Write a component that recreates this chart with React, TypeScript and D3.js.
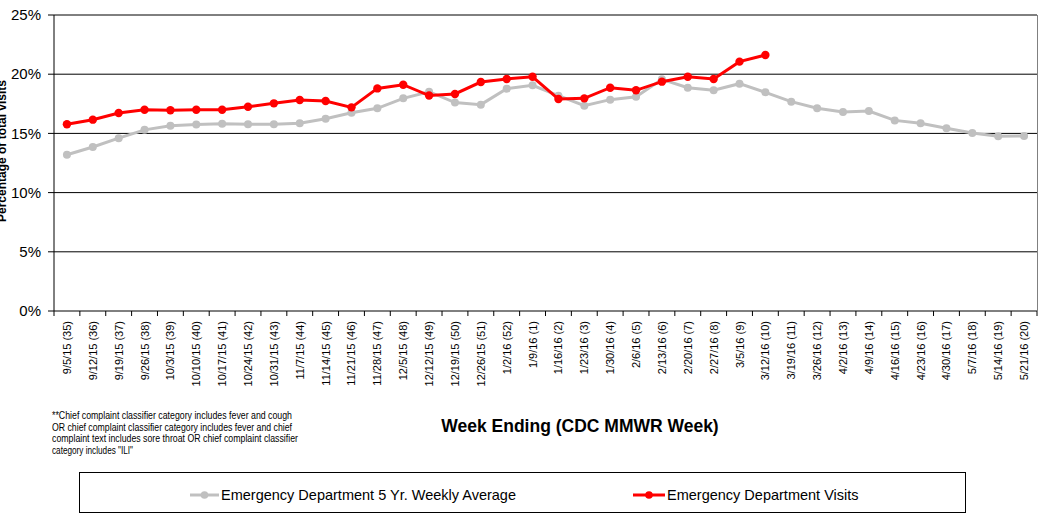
import React from "react";
import * as d3 from "d3";

const weeks: string[] = [
  "9/5/15 (35)", "9/12/15 (36)", "9/19/15 (37)", "9/26/15 (38)", "10/3/15 (39)",
  "10/10/15 (40)", "10/17/15 (41)", "10/24/15 (42)", "10/31/15 (43)", "11/7/15 (44)",
  "11/14/15 (45)", "11/21/15 (46)", "11/28/15 (47)", "12/5/15 (48)", "12/12/15 (49)",
  "12/19/15 (50)", "12/26/15 (51)", "1/2/16 (52)", "1/9/16 (1)", "1/16/16 (2)",
  "1/23/16 (3)", "1/30/16 (4)", "2/6/16 (5)", "2/13/16 (6)", "2/20/16 (7)",
  "2/27/16 (8)", "3/5/16 (9)", "3/12/16 (10)", "3/19/16 (11)", "3/26/16 (12)",
  "4/2/16 (13)", "4/9/16 (14)", "4/16/16 (15)", "4/23/16 (16)", "4/30/16 (17)",
  "5/7/16 (18)", "5/14/16 (19)", "5/21/16 (20)",
];

const avg5yr: number[] = [
  13.2, 13.85, 14.6, 15.3, 15.65, 15.75, 15.82, 15.77, 15.77, 15.85,
  16.24, 16.75, 17.12, 17.96, 18.52, 17.6, 17.43, 18.78, 19.06, 18.19,
  17.34, 17.85, 18.1, 19.57, 18.86, 18.64, 19.2, 18.47, 17.68, 17.12,
  16.81, 16.89, 16.1, 15.85, 15.43, 15.03, 14.75, 14.78,
];

const edVisits: number[] = [
  15.77, 16.16, 16.72, 17.0, 16.95, 17.0, 17.0, 17.25, 17.54, 17.82,
  17.74, 17.2, 18.8, 19.11, 18.2, 18.33, 19.34, 19.6, 19.78, 17.9,
  17.96, 18.86, 18.64, 19.37, 19.79, 19.6, 21.06, 21.62,
];

const yTicks: number[] = [0, 5, 10, 15, 20, 25];

const footnote: string[] = [
  "**Chief complaint classifier category includes fever and cough",
  "OR chief complaint classifier category includes fever and chief",
  "complaint text includes sore throat OR chief complaint classifier",
  "category includes \"ILI\"",
];
const footnoteWidths: number[] = [240, 240, 246, 81];

const legendItems = [
  { label: "Emergency Department 5 Yr. Weekly Average", color: "#C0C0C0" },
  { label: "Emergency Department Visits", color: "#FF0000" },
];

const FONT = "'Liberation Sans', Arial, sans-serif";

export default function App() {
  const left = 54, right = 1037, top = 15, bottom = 311;
  const x = d3.scaleBand<string>().domain(weeks).range([left, right]).padding(0);
  const y = d3.scaleLinear().domain([0, 25]).range([bottom, top]);
  const cx = (i: number) => (x(weeks[i]) as number) + x.bandwidth() / 2;

  const line = d3
    .line<number>()
    .x((_, i) => cx(i))
    .y((d) => y(d));

  const legendLineX = [190, 633];
  const legendTextX = [221, 667];

  return (
    <svg
      width={1046}
      height={515}
      style={{ position: "absolute", left: 0, top: 0, background: "#fff" }}
      fontFamily={FONT}
    >
      {/* gridlines */}
      {yTicks.slice(1).map((t) => (
        <line key={"g" + t} x1={left} x2={right} y1={y(t)} y2={y(t)} stroke="#000" strokeWidth={1} />
      ))}
      {/* right border */}
      <line x1={right + 0.5} x2={right + 0.5} y1={top} y2={bottom} stroke="#808080" strokeWidth={1} />
      {/* y axis */}
      <line x1={left} x2={left} y1={top} y2={bottom + 5} stroke="#000" strokeWidth={1} />
      {yTicks.map((t) => (
        <g key={"yt" + t}>
          <line x1={left - 6} x2={left} y1={y(t)} y2={y(t)} stroke="#000" />
          <text x={41} y={y(t)} dy="0.35em" textAnchor="end" fontSize={15} fill="#000">
            {t}%
          </text>
        </g>
      ))}
      {/* x axis */}
      <line x1={left} x2={right} y1={bottom} y2={bottom} stroke="#000" strokeWidth={1} />
      {weeks.map((w, i) => (
        <line
          key={"xt" + i}
          x1={(x(w) as number) + x.bandwidth()}
          x2={(x(w) as number) + x.bandwidth()}
          y1={bottom}
          y2={bottom + 5}
          stroke="#000"
        />
      ))}
      {weeks.map((w, i) => (
        <text
          key={"xl" + i}
          transform={`translate(${cx(i) + 4},${321}) rotate(-90)`}
          textAnchor="end"
          fontSize={11}
          fill="#000"
        >
          {w}
        </text>
      ))}
      {/* y axis title (clipped at the left edge, as in the original) */}
      <text
        transform={`translate(6,${151}) rotate(-90)`}
        textAnchor="middle"
        fontSize={12}
        fontWeight="bold"
        fill="#000"
      >
        Percentage of total visits
      </text>
      {/* series */}
      <path d={line(avg5yr) || ""} fill="none" stroke="#C0C0C0" strokeWidth={3} />
      {avg5yr.map((v, i) => (
        <circle key={"a" + i} cx={cx(i)} cy={y(v)} r={4} fill="#C0C0C0" />
      ))}
      <path d={line(edVisits) || ""} fill="none" stroke="#FF0000" strokeWidth={3} />
      {edVisits.map((v, i) => (
        <circle key={"e" + i} cx={cx(i)} cy={y(v)} r={4.2} fill="#FF0000" />
      ))}
      {/* x axis title */}
      <text x={580} y={432} textAnchor="middle" fontSize={17.5} fontWeight="bold" fill="#000">
        Week Ending (CDC MMWR Week)
      </text>
      {/* footnote */}
      {footnote.map((s, i) => (
        <text
          key={"f" + i}
          x={52}
          y={419 + i * 11.5}
          fontSize={11}
          fill="#000"
          textLength={footnoteWidths[i]}
          lengthAdjust="spacingAndGlyphs"
        >
          {s}
        </text>
      ))}
      {/* legend */}
      <rect x={79.5} y={472.5} width={886} height={40} fill="#fff" stroke="#000" strokeWidth={1} />
      {legendItems.map((it, i) => (
        <g key={"l" + i}>
          <line x1={legendLineX[i]} x2={legendTextX[i] - 2} y1={495} y2={495} stroke={it.color} strokeWidth={3} />
          <circle cx={(legendLineX[i] + legendTextX[i] - 2) / 2} cy={495} r={3.8} fill={it.color} />
          <text x={legendTextX[i]} y={495} dy="0.35em" fontSize={14.5} fill="#000">
            {it.label}
          </text>
        </g>
      ))}
    </svg>
  );
}
